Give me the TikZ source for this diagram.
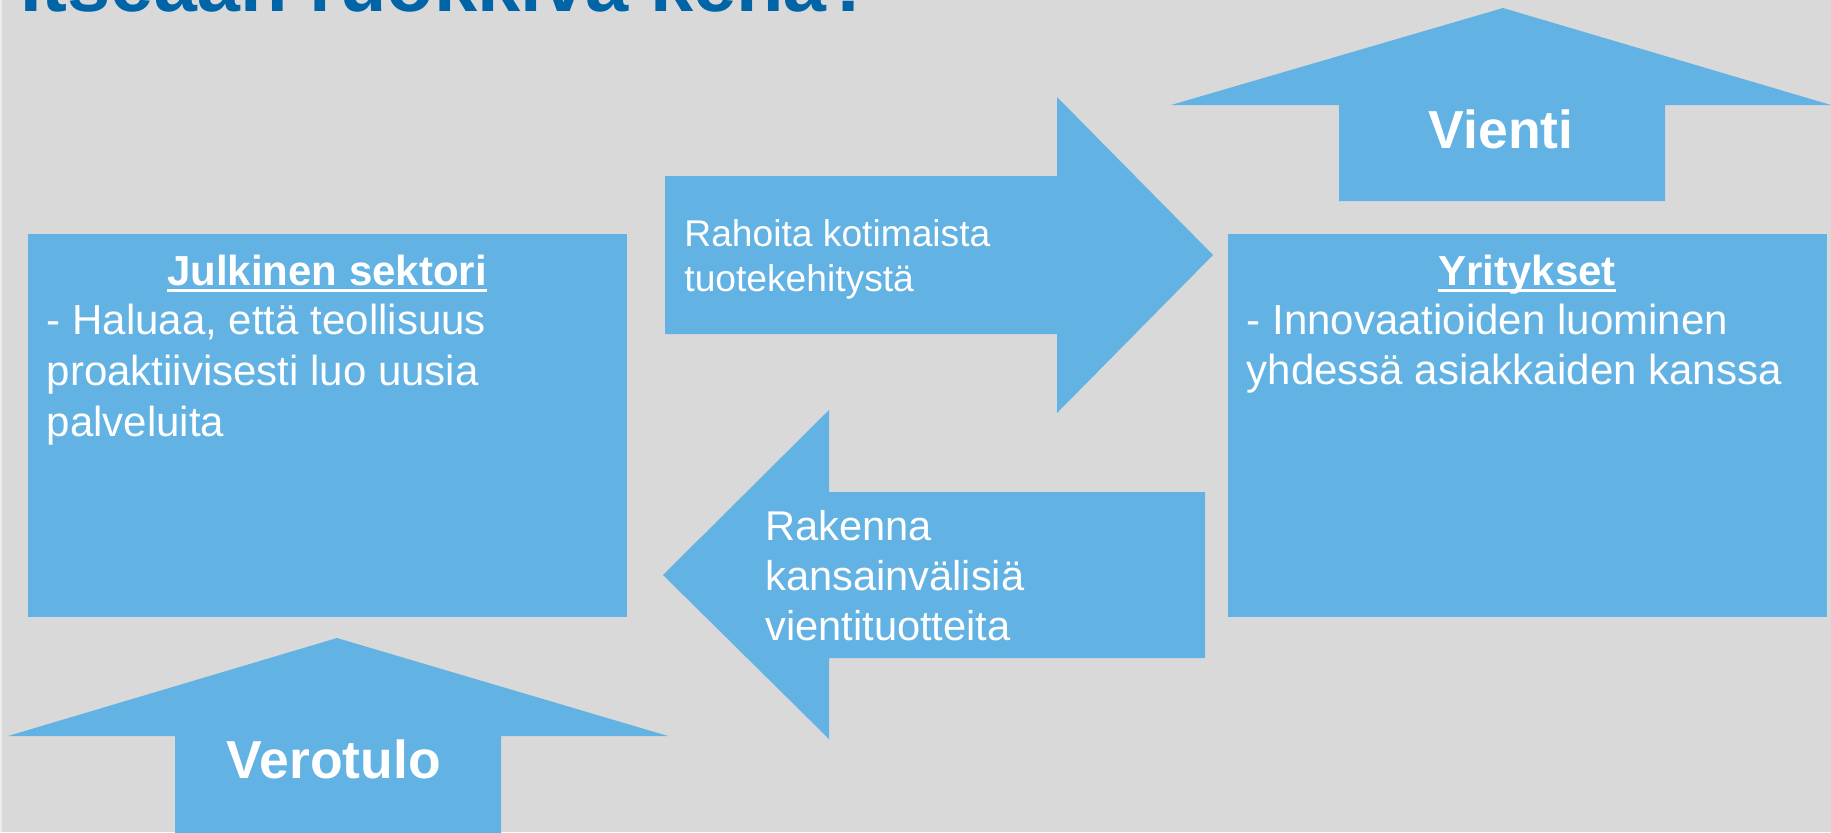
\documentclass[tikz,border=0pt]{standalone}
\usepackage{fontspec}
\setmainfont{Liberation Sans}
\definecolor{bg}{HTML}{D9D9D9}
\definecolor{edge}{HTML}{EBEBEB}
\definecolor{shape}{HTML}{63B2E4}
\definecolor{titleblue}{HTML}{0064A6}
\tikzset{
  blk/.style={fill=shape, draw=none},
  boxst/.style={fill=shape, draw=none, inner sep=0, minimum width=299.5pt, minimum height=191.5pt},
  bodytxt/.style={text=white, inner sep=0, anchor=base west, font=\fontsize{21}{25}\selectfont},
  headtxt/.style={text=white, inner sep=0, anchor=base, font=\bfseries\fontsize{21}{25}\selectfont},
  arrtxtA/.style={text=white, inner sep=0, anchor=base west, font=\fontsize{18.6}{22}\selectfont},
  arrtxtB/.style={text=white, inner sep=0, anchor=base west, font=\fontsize{20.8}{25}\selectfont},
  bigtxt/.style={text=white, inner sep=0, anchor=base, font=\bfseries\fontsize{26.75}{30}\selectfont},
  uline/.style={white, line width=1.4pt}
}
\begin{document}
\begin{tikzpicture}[x=0.5pt,y=-0.5pt]
\useasboundingbox (0,0) rectangle (1831,832);
\clip (0,0) rectangle (1831,832);
\fill[bg] (0,0) rectangle (1831,832);
\fill[edge] (0,0) rectangle (2,832);

% title (cut off at top, as in the reference)
\node[anchor=base west, inner sep=0, text=titleblue, font=\bfseries\fontsize{38.8}{42}\selectfont] (title) at (20,11) {Itseään ruokkiva kehä?};

% boxes
\node[boxst] (julk) at (327.5,425.5) {};
\node[boxst] (yrit) at (1527,425.5) {};

% block arrows
\fill[blk] (1503,8) -- (1831,105) -- (1665,105) -- (1665,201) -- (1339,201) -- (1339,105) -- (1171,105) -- cycle;
\fill[blk] (337,638) -- (668,736) -- (501,736) -- (501,840) -- (175,840) -- (175,736) -- (8,736) -- cycle;
\fill[blk] (665,176) -- (1057,176) -- (1057,97) -- (1213,255) -- (1057,413) -- (1057,334) -- (665,334) -- cycle;
\fill[blk] (663,575) -- (829,410) -- (829,492) -- (1205,492) -- (1205,658) -- (829,658) -- (829,739) -- cycle;

% left box text
\node[headtxt] (jh) at (327,285) {Julkinen sektori};
\draw[uline] ([yshift=-2.9pt]jh.base west) -- ([yshift=-2.9pt]jh.base east);
\node[bodytxt] (j1) at (46.5,334) {- Haluaa, että teollisuus};
\node[bodytxt] (j2) at (46.5,385) {proaktiivisesti luo uusia};
\node[bodytxt] (j3) at (46.5,436) {palveluita};

% right box text
\node[headtxt] (yh) at (1527,285) {Yritykset};
\draw[uline] ([yshift=-2.9pt]yh.base west) -- ([yshift=-2.9pt]yh.base east);
\node[bodytxt] (y1) at (1246.5,334) {- Innovaatioiden luominen};
\node[bodytxt] (y2) at (1246.5,384) {yhdessä asiakkaiden kanssa};

% arrow texts
\node[arrtxtA] (r1) at (684,246.7) {Rahoita kotimaista};
\node[arrtxtA] (r2) at (684,291.7) {tuotekehitystä};
\node[arrtxtB] (k1) at (765,540) {Rakenna};
\node[arrtxtB] (k2) at (765,590) {kansainvälisiä};
\node[arrtxtB] (k3) at (765,640.5) {vientituotteita};
\node[bigtxt] (vienti) at (1501,148) {Vienti};
\node[bigtxt] (vero) at (334,778) {Verotulo};
\end{tikzpicture}
\end{document}
